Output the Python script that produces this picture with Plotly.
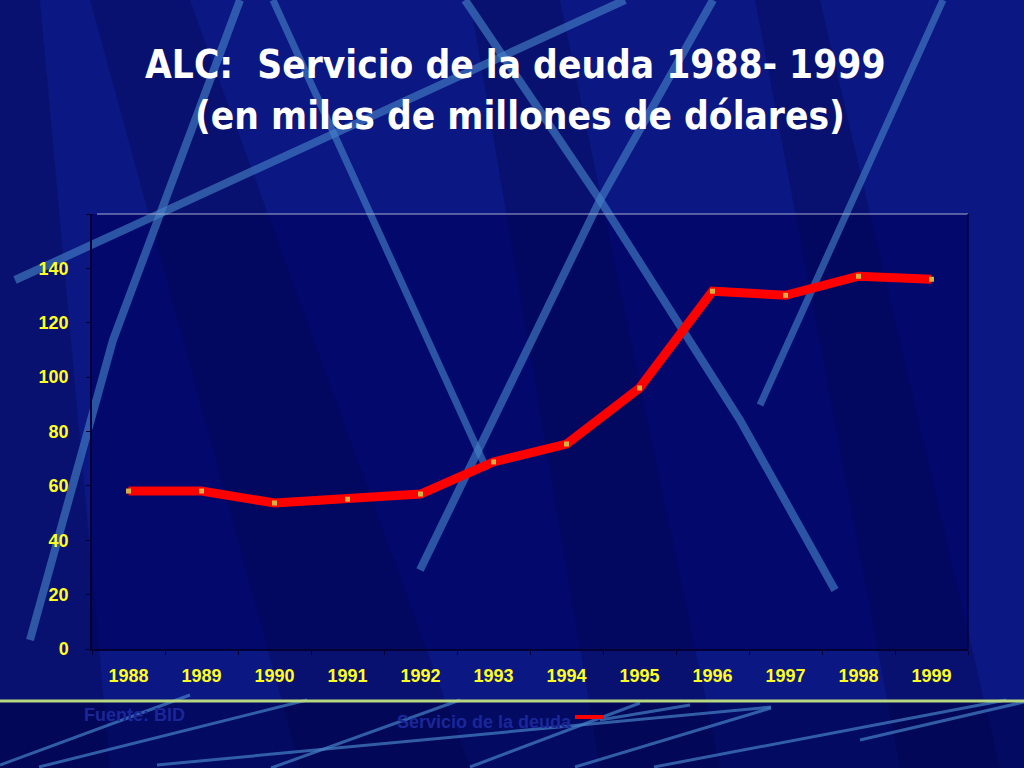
import plotly.graph_objects as go

# ---- data ----
years = ["1988", "1989", "1990", "1991", "1992", "1993",
         "1994", "1995", "1996", "1997", "1998", "1999"]
debt_service = [58.1, 58.1, 53.7, 55.1, 57.0, 68.8,
                75.4, 96.0, 131.6, 130.1, 137.1, 136.0]
y_tickvals = [0, 20, 40, 60, 80, 100, 120, 140, 160]
y_ticktext = ["0", "20", "40", "60", "80", "100", "120", "140", ""]
series_name = "Servicio de la deuda"
source_text = "Fuente: BID"
title_line1 = "ALC:  Servicio de la deuda 1988- 1999"
title_line2 = "(en miles de millones de dólares)"

# ---- layout geometry (pixels) ----
W, H = 1024, 768
L, R, T, B = 92, 968, 214, 649
PW, PH = R - L, B - T


def px(x):
    return (x - L) / PW


def py(y):
    return (B - y) / PH


def path(points):
    return "M " + " L ".join(f"{px(x)} {py(y)}" for x, y in points)


shapes = []
# darker plot area backdrop
shapes.append(dict(type="rect", xref="paper", yref="paper", x0=0, x1=1, y0=0, y1=1,
                   fillcolor="#03096c", line=dict(width=0), layer="below"))
# darker bottom band
shapes.append(dict(type="rect", xref="paper", yref="paper", x0=px(0), x1=px(W),
                   y0=py(H), y1=py(701), fillcolor="#030a62", line=dict(width=0), layer="below"))
# subtle darker wedges
wedges = [
    [(90, 0), (190, 0), (470, 768), (300, 768)],
    [(470, 0), (560, 0), (720, 768), (600, 768)],
    [(755, 0), (820, 0), (1000, 768), (900, 768)],
    [(0, 0), (40, 0), (110, 768), (0, 768)],
]
for wdg in wedges:
    shapes.append(dict(type="path", xref="paper", yref="paper", path=path(wdg) + " Z",
                       fillcolor="rgba(0,0,50,0.22)", line=dict(width=0), layer="below"))

stripe_col = "rgba(70,130,200,0.62)"
big_stripes = [
    ([(15, 280), (625, 0)], 8),
    ([(240, 0), (113, 340), (30, 640)], 8),
    ([(273, 0), (487, 470)], 7),
    ([(420, 570), (600, 200), (713, 0)], 8),
    ([(465, 0), (600, 200), (740, 420), (835, 590)], 8),
    ([(760, 405), (943, 0)], 7),
]
for pts, wd in big_stripes:
    shapes.append(dict(type="path", xref="paper", yref="paper", path=path(pts),
                       line=dict(color=stripe_col, width=wd), layer="below"))

thin_stripes = [
    [(0, 765), (190, 695)],
    [(39, 767), (307, 700)],
    [(157, 765), (771, 707)],
    [(271, 768), (460, 700)],
    [(470, 767), (640, 703)],
    [(575, 767), (771, 708)],
    [(654, 767), (1006, 700)],
    [(860, 740), (1024, 702)],
    [(600, 720), (690, 705)],
]
for pts in thin_stripes:
    shapes.append(dict(type="path", xref="paper", yref="paper", path=path(pts),
                       line=dict(color="rgba(70,130,200,0.7)", width=3), layer="below"))

# plot frame: light top border, dark right border
shapes.append(dict(type="line", xref="paper", yref="paper", x0=px(97), x1=1, y0=1, y1=1,
                   line=dict(color="#a8aed0", width=1.2)))
shapes.append(dict(type="line", xref="paper", yref="paper", x0=1, x1=1, y0=0, y1=1,
                   line=dict(color="#000040", width=1.5)))
# green separator line
shapes.append(dict(type="line", xref="paper", yref="paper", x0=px(0), x1=px(W),
                   y0=py(701), y1=py(701), line=dict(color="#b7d880", width=3)))
# legend sample line
shapes.append(dict(type="line", xref="paper", yref="paper", x0=px(575), x1=px(604),
                   y0=py(717), y1=py(717), line=dict(color="#ff0000", width=4)))

fig = go.Figure()
fig.add_trace(go.Scatter(
    x=years, y=debt_service, mode="lines+markers", name=series_name,
    line=dict(color="#ff0000", width=9),
    marker=dict(symbol="square", size=5, color="#d8b040"),
    showlegend=False,
))

title_font = dict(family="Liberation Sans Narrow, DejaVu Sans Condensed, Noto Sans CJK JP",
                  size=38.5, color="#ffffff", weight="bold")
annotations = [
    dict(text=title_line1, x=px(515), y=py(64), xref="paper", yref="paper",
         showarrow=False, xanchor="center", yanchor="middle", font=title_font),
    dict(text=title_line2, x=px(520), y=py(116), xref="paper", yref="paper",
         showarrow=False, xanchor="center", yanchor="middle", font=title_font),
    dict(text=source_text, x=px(82), y=py(715), xref="paper", yref="paper",
         showarrow=False, xanchor="left", yanchor="middle",
         font=dict(family="Liberation Sans", size=18, color="#1a279a", weight="bold")),
    dict(text=series_name, x=px(395), y=py(722), xref="paper", yref="paper",
         showarrow=False, xanchor="left", yanchor="middle",
         font=dict(family="Liberation Sans", size=18, color="#1a279a", weight="bold")),
]

tick_font = dict(family="Liberation Sans", size=18, color="#ffff22", weight="bold")

fig.update_layout(
    width=W, height=H,
    margin=dict(l=L, r=W - R, t=T, b=H - B, pad=0),
    paper_bgcolor="#0b1782",
    plot_bgcolor="rgba(0,0,0,0)",
    shapes=shapes,
    annotations=annotations,
    showlegend=False,
)
fig.update_xaxes(
    type="category", range=[-0.5, 11.5], tickson="boundaries",
    showgrid=False, zeroline=False,
    showline=True, linecolor="#000033", linewidth=1.5,
    ticks="outside", ticklen=4, tickcolor="#000033",
    ticklabelstandoff=10, tickfont=tick_font,
)
fig.update_yaxes(
    range=[0, 160], tickvals=y_tickvals, ticktext=y_ticktext,
    showgrid=False, zeroline=False,
    showline=True, linecolor="#000033", linewidth=1.5,
    ticks="outside", ticklen=4, tickcolor="#000033",
    ticklabelstandoff=14, tickfont=tick_font,
)

fig.write_html("out.html", config={"displayModeBar": False},
               post_script="document.body.style.margin='0';document.body.style.background='#0b1782';document.body.style.overflow='hidden';")
